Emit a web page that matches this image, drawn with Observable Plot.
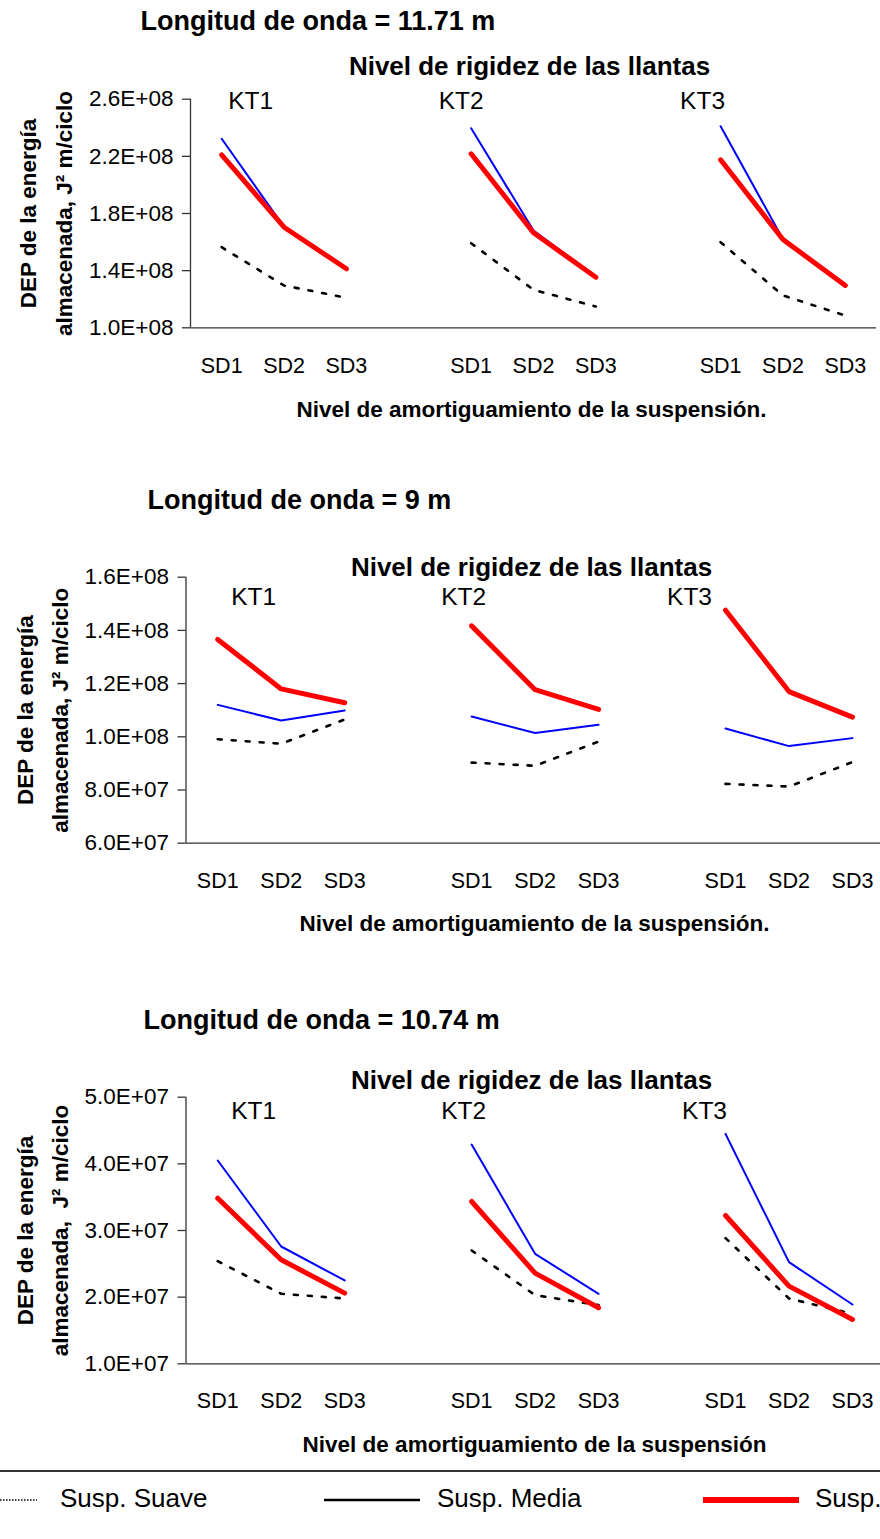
<!DOCTYPE html>
<html>
<head>
<meta charset="utf-8">
<script src="https://cdn.jsdelivr.net/npm/d3@7"></script>
<script src="https://cdn.jsdelivr.net/npm/@observablehq/plot@0.6"></script>
<style>
  html, body { margin: 0; padding: 0; background: #fff; }
  body { width: 880px; height: 1539px; overflow: hidden; position: relative;
         font-family: "Liberation Sans", Arial, sans-serif; color: #000; }
  .panel { position: absolute; left: 0; }
  #legend { position: absolute; left: 0; top: 0; width: 880px; height: 1539px; pointer-events: none; }
  #legend .sep { position: absolute; left: 0; top: 1470px; width: 880px; height: 2px; background: #333; }
  #legend .lbl { position: absolute; top: 1485px; font-size: 26px; line-height: 26px; white-space: pre; }
  #legend svg { position: absolute; left: 0; top: 0; }
</style>
</head>
<body>
<div id="p1" class="panel" style="top:0px"></div>
<div id="p2" class="panel" style="top:470px"></div>
<div id="p3" class="panel" style="top:990px"></div>
<div id="legend"></div>
<script>
// Categories
const ktLevels = ["KT1", "KT2", "KT3"];
const sdLevels = ["SD1", "SD2", "SD3"];
const seriesNames = ["Susp. Suave", "Susp. Media", "Susp."];

// Stored-energy PSD, ordered KT1 SD1..SD3, KT2 SD1..SD3, KT3 SD1..SD3
// Wavelength 11.71 m
const suave1171 = [1.564e8, 1.296e8, 1.210e8, 1.592e8, 1.266e8, 1.149e8, 1.599e8, 1.226e8, 1.086e8];
const media1171 = [2.323e8, 1.706e8, 1.415e8, 2.397e8, 1.681e8, 1.356e8, 2.411e8, 1.620e8, 1.298e8];
const dura1171  = [2.211e8, 1.704e8, 1.413e8, 2.218e8, 1.665e8, 1.354e8, 2.176e8, 1.618e8, 1.296e8];
// Wavelength 9 m
const suave9 = [0.991e8, 0.974e8, 1.065e8, 0.903e8, 0.891e8, 0.982e8, 0.823e8, 0.813e8, 0.905e8];
const media9 = [1.120e8, 1.061e8, 1.099e8, 1.076e8, 1.014e8, 1.045e8, 1.031e8, 0.965e8, 0.995e8];
const dura9  = [1.366e8, 1.180e8, 1.128e8, 1.417e8, 1.177e8, 1.103e8, 1.476e8, 1.170e8, 1.074e8];
// Wavelength 10.74 m
const suave1074 = [2.54e7, 2.05e7, 1.98e7, 2.70e7, 2.03e7, 1.88e7, 2.885e7, 1.98e7, 1.75e7];
const media1074 = [4.05e7, 2.76e7, 2.25e7, 4.29e7, 2.65e7, 2.05e7, 4.45e7, 2.525e7, 1.89e7];
const dura1074  = [3.485e7, 2.56e7, 2.06e7, 3.435e7, 2.36e7, 1.84e7, 3.225e7, 2.165e7, 1.665e7];

// Y tick values
const yTicks1171 = [1.0e8, 1.4e8, 1.8e8, 2.2e8, 2.6e8];
const yTicks9 = [6.0e7, 8.0e7, 1.0e8, 1.2e8, 1.4e8, 1.6e8];
const yTicks1074 = [1.0e7, 2.0e7, 3.0e7, 4.0e7, 5.0e7];

// Each KT group takes three category slots, followed by one empty slot
const slotOf = (k, s) => k * (sdLevels.length + 1) + s;
const xDomain = [-0.5, slotOf(ktLevels.length - 1, sdLevels.length - 1) + 0.5];
const sdSlots = ktLevels.flatMap((_, k) => sdLevels.map((_, s) => slotOf(k, s)));
const sdAtSlot = new Map(sdSlots.map((slot, i) => [slot, sdLevels[i % sdLevels.length]]));

function buildRows(suave, media, dura) {
  const rows = [];
  [suave, media, dura].forEach((vals, si) => {
    ktLevels.forEach((kt, k) => sdLevels.forEach((sd, s) => {
      rows.push({series: seriesNames[si], kt, sd, slot: slotOf(k, s), value: vals[k * sdLevels.length + s]});
    }));
  });
  return rows;
}

const sci = v => {
  const [m, e] = v.toExponential(1).split("e");
  return `${m}E${e[0]}${e.slice(1).padStart(2, "0")}`;
};

const FONT = `"Liberation Sans", Arial, sans-serif`;
const AXIS = "#333";

const panels = [
  {id: "p1", top: 0, height: 440, ml: 190, mr: 4, mt: 98.7, mb: 112.7,
   yDomain: [1.0e8, 2.6e8], yTicks: yTicks1171, rows: buildRows(suave1171, media1171, dura1171),
   title: "Longitud de onda = 11.71 m", titleX: 140, titleY: 29,
   rigX: 529, rigY: 74, ktY: 108, ktDx: [29, -10, -18], sdY: 372,
   xTitle: "Nivel de amortiguamiento de la suspensión.", xTitleX: 531, xTitleY: 416,
   yLab: ["DEP de la energía", "almacenada, J² m/ciclo"], yLabX: [35, 71], yLabY: 213},
  {id: "p2", top: 470, height: 480, ml: 185.5, mr: -3.7, mt: 106.7, mb: 107.3,
   yDomain: [6.0e7, 1.6e8], yTicks: yTicks9, rows: buildRows(suave9, media9, dura9),
   title: "Longitud de onda = 9 m", titleX: 147, titleY: 508,
   rigX: 531, rigY: 575, ktY: 604, ktDx: [36, -8, -36], sdY: 887,
   xTitle: "Nivel de amortiguamiento de la suspensión.", xTitleX: 534, xTitleY: 930,
   yLab: ["DEP de la energía", "almacenada, J² m/ciclo"], yLabX: [32, 67], yLabY: 709.7},
  {id: "p3", top: 990, height: 470, ml: 185.5, mr: -3.7, mt: 106.7, mb: 96.7,
   yDomain: [1.0e7, 5.0e7], yTicks: yTicks1074, rows: buildRows(suave1074, media1074, dura1074),
   title: "Longitud de onda = 10.74 m", titleX: 143, titleY: 1028,
   rigX: 531, rigY: 1088, ktY: 1118, ktDx: [36, -8, -21], sdY: 1407,
   xTitle: "Nivel de amortiguamiento de la suspensión", xTitleX: 534, xTitleY: 1451,
   yLab: ["DEP de la energía", "almacenada,  J² m/ciclo"], yLabX: [32, 67], yLabY: 1230}
];

function drawPanel(p) {
  // place a text block at page coordinates (x, baseline y) relative to the frame's top-left corner
  const at = (text, X, Y, opts) => Plot.text([text], {
    text: d => d, frameAnchor: "top-left",
    dx: X - p.ml, dy: (Y - p.top) - p.mt, lineAnchor: "bottom", fill: "#000", ...opts
  });
  const bySeries = name => p.rows.filter(d => d.series === name);
  const sdFont = 21.5;
  const marks = [
    Plot.axisY({ticks: p.yTicks, tickFormat: sci, tickSize: 8, tickPadding: 9, label: null,
                fontSize: 22.5, stroke: AXIS, strokeWidth: 1.3}),
    Plot.axisX({ticks: sdSlots, tickFormat: i => sdAtSlot.get(i), tickSize: 0, label: null,
                tickPadding: (p.sdY - p.top) - (p.height - p.mb) - 0.71 * sdFont, fontSize: sdFont}),
    Plot.ruleY([p.yDomain[0]], {stroke: AXIS, strokeWidth: 1.3}),
    Plot.ruleX([xDomain[0]], {stroke: AXIS, strokeWidth: 1.3}),
    Plot.line(bySeries(seriesNames[0]), {x: "slot", y: "value", z: "kt", stroke: "#000",
      strokeWidth: 2.6, strokeDasharray: "4,10"}),
    Plot.line(bySeries(seriesNames[1]), {x: "slot", y: "value", z: "kt", stroke: "#0000ff",
      strokeWidth: 2, strokeLinejoin: "round"}),
    Plot.line(bySeries(seriesNames[2]), {x: "slot", y: "value", z: "kt", stroke: "#ff0000",
      strokeWidth: 5, strokeLinejoin: "round", strokeLinecap: "round"}),
    ...ktLevels.map((kt, k) => Plot.text([kt], {
      text: d => d, x: () => slotOf(k, 0), y: () => p.yDomain[1],
      dx: p.ktDx[k], dy: (p.ktY - p.top) - p.mt, lineAnchor: "bottom",
      fontSize: 24.5, fill: "#000"})),
    at(p.title, p.titleX, p.titleY, {textAnchor: "start", fontWeight: "bold", fontSize: 27}),
    at("Nivel de rigidez de las llantas", p.rigX, p.rigY, {textAnchor: "middle", fontWeight: "bold", fontSize: 26}),
    at(p.xTitle, p.xTitleX, p.xTitleY, {textAnchor: "middle", fontWeight: "bold", fontSize: 22.5}),
    ...p.yLab.map((line, i) => at(line, p.yLabX[i], p.yLabY, {
      textAnchor: "middle", rotate: -90, fontWeight: "bold", fontSize: 22.5}))
  ];
  const chart = Plot.plot({
    width: 880, height: p.height,
    marginLeft: p.ml, marginRight: p.mr, marginTop: p.mt, marginBottom: p.mb,
    x: {type: "linear", domain: xDomain, label: null},
    y: {type: "linear", domain: p.yDomain, label: null},
    style: {fontFamily: FONT, fontSize: "22px", color: "#000", background: "transparent", overflow: "visible"},
    marks
  });
  document.getElementById(p.id).appendChild(chart);
}

panels.forEach(drawPanel);

// Legend below the three panels
(function drawLegend() {
  const host = document.getElementById("legend");
  host.innerHTML = `<div class="sep"></div>`;
  const svg = d3.select(host).append("svg").attr("width", 880).attr("height", 1539);
  const items = [
    {name: seriesNames[0], x0: 0, x1: 37, tx: 60, stroke: "#000", w: 1.3, dash: "1.5,1.5"},
    {name: seriesNames[1], x0: 324, x1: 420, tx: 437, stroke: "#000", w: 2.3, dash: null},
    {name: seriesNames[2], x0: 703, x1: 799, tx: 815, stroke: "#ff0000", w: 6, dash: null}
  ];
  items.forEach(it => {
    svg.append("line").attr("x1", it.x0).attr("x2", it.x1).attr("y1", 1500).attr("y2", 1500)
      .attr("stroke", it.stroke).attr("stroke-width", it.w).attr("stroke-dasharray", it.dash);
    const d = document.createElement("div");
    d.className = "lbl";
    d.style.left = it.tx + "px";
    d.textContent = it.name;
    host.appendChild(d);
  });
})();
</script>
</body>
</html>
